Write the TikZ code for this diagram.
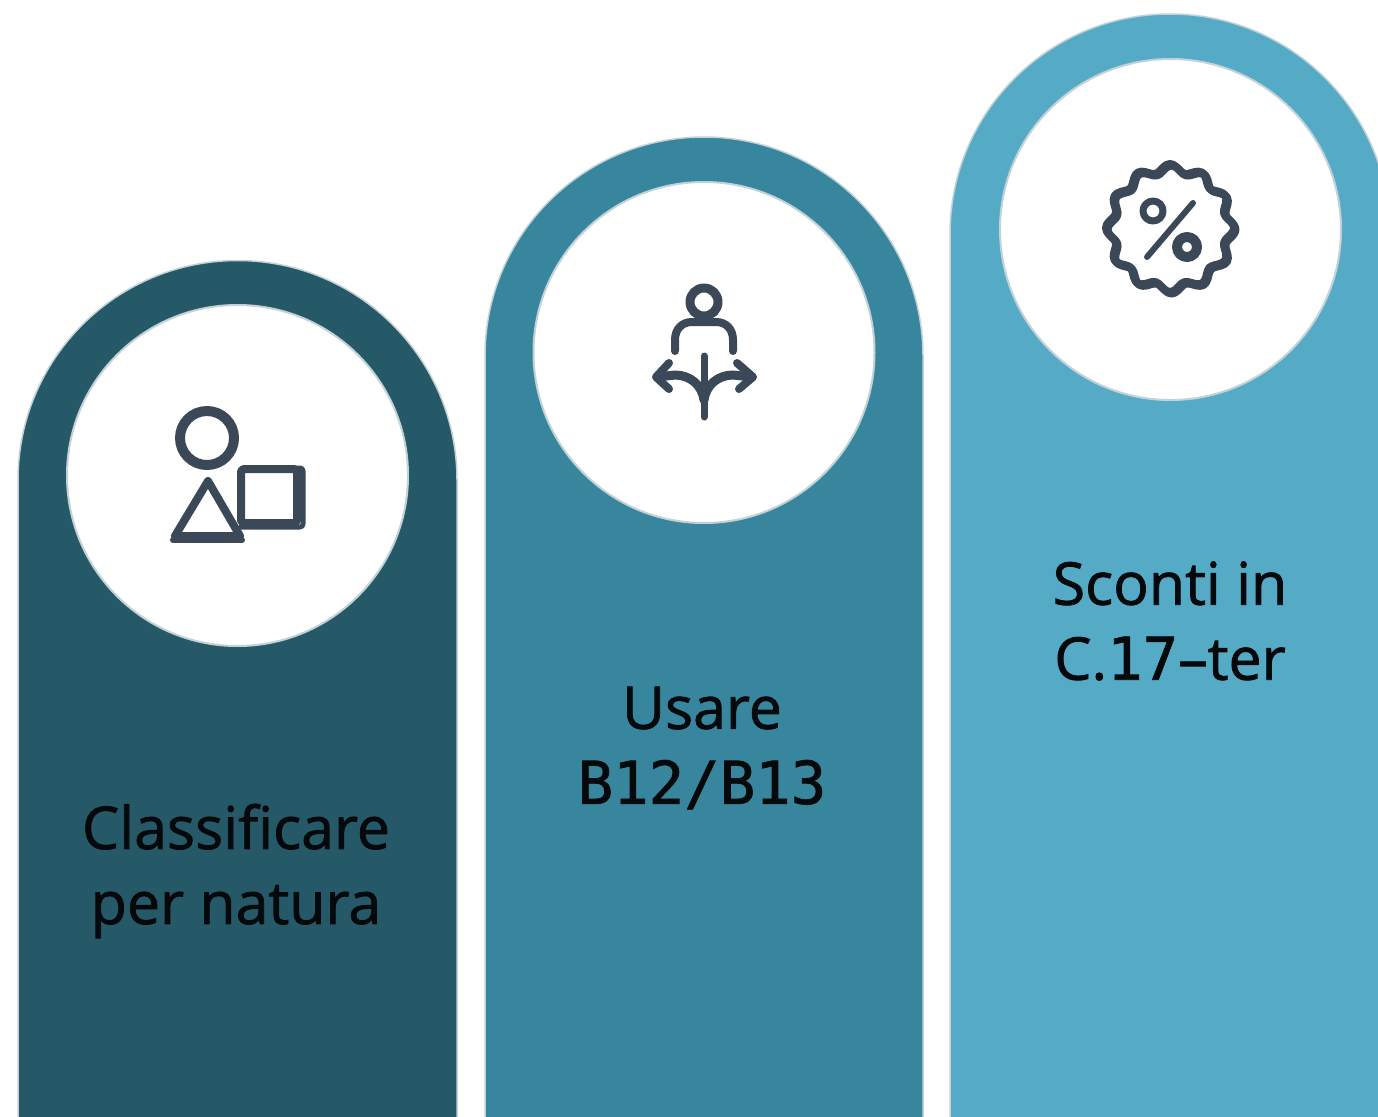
\documentclass[tikz,border=0pt]{standalone}
\usepackage{fontspec}
\setmainfont[FakeBold=1.3]{Open Sans}
\newfontfamily\digitfont[FakeBold=1.3]{DejaVu Sans Mono}
\definecolor{pilla}{HTML}{265968}
\definecolor{pillb}{HTML}{38869E}
\definecolor{pillc}{HTML}{55ABC6}
\definecolor{edgeline}{HTML}{C3D2D8}
\definecolor{iconc}{HTML}{3A4858}
\definecolor{inkc}{HTML}{05090B}
\tikzset{
  pillshape/.style={draw=edgeline,line width=1.5pt},
  disc/.style={circle,fill=white,draw=edgeline,line width=2pt,minimum size=341pt,inner sep=0pt},
  labeltext/.style={text=inkc,align=center,font=\fontsize{59}{75}\selectfont,inner sep=0pt},
  iconline/.style={draw=iconc,line width=8pt,line cap=round,line join=round},
}
\begin{document}
\begin{tikzpicture}[x=1pt,y=-1pt]
\useasboundingbox (0,0) rectangle (1378,1116);
\clip (0,0) rectangle (1378,1116);
% pills
\path[pillshape,fill=pilla] (18,1130) -- (18,480) arc[start angle=180,end angle=360,radius=219.5] -- (457,1130) -- cycle;
\path[pillshape,fill=pillb] (485,1130) -- (485,356) arc[start angle=180,end angle=360,radius=219] -- (923,1130) -- cycle;
\path[pillshape,fill=pillc] (950,1130) -- (950,234) arc[start angle=180,end angle=360,radius=220] -- (1390,1130) -- cycle;
% discs
\node[disc] (d1) at (237.5,475.5) {};
\node[disc] (d2) at (704,352.5) {};
\node[disc] (d3) at (1170.5,229.5) {};
% labels
\node[labeltext] (t1) at (236,871) {Classificare\\per natura};
\node[labeltext] (t2) at (702,748) {Usare\\{\digitfont\fontsize{59}{75}\selectfont B12/B13}};
\node[labeltext] (t3) at (1170,621) {Sconti in\\C.{\digitfont\fontsize{59}{75}\selectfont 17}–ter};
% icon 1
\draw[iconline,line width=10pt] (207,438) circle[radius=27];
\draw[iconline] (208,481) -- (175,536) -- (240,536) -- cycle;
\draw[iconline,line width=6pt] (173,540) -- (242,540);
\draw[iconline,rounded corners=3pt] (241,469) rectangle (297,523);
\draw[iconline,line width=5pt,rounded corners=3pt] (297,468) -- (303,468) -- (303,527) -- (241,527);
% icon 2
\draw[iconline,line width=9pt] (704,302) circle[radius=14];
\draw[iconline] (675,351) -- (675,340) .. controls (675,329) and (682,322) .. (692,322) -- (716,322) .. controls (726,322) and (733,329) .. (733,340) -- (733,351);
\draw[iconline,line width=7pt] (704,356) -- (704,417);
\draw[iconline,line width=9pt] (657,377) -- (675,375) .. controls (690,375) and (702,385) .. (704,400) .. controls (706,385) and (718,375) .. (733,375) -- (752,377);
\draw[iconline] (669,363) -- (656,377) -- (669,389);
\draw[iconline] (737,363) -- (753,377) -- (739,389);
% icon 3
\draw[iconline] plot[domain=0:360,samples=121,smooth,variable=\a] ({1171.5+(60+4*cos(12*\a))*cos(\a)},{229.5+(60+4*cos(12*\a))*sin(\a)});
\draw[iconline] plot[domain=0:360,samples=121,smooth,variable=\a] ({1170+(60+4*cos(12*\a))*cos(\a)},{228+(60+4*cos(12*\a))*sin(\a)});
\draw[iconline,line width=7pt] (1153,211) circle[radius=10];
\draw[iconline,line width=10pt] (1187,247) circle[radius=10];
\draw[iconline,line width=6pt] (1147,257) -- (1193,203);
\end{tikzpicture}
\end{document}
